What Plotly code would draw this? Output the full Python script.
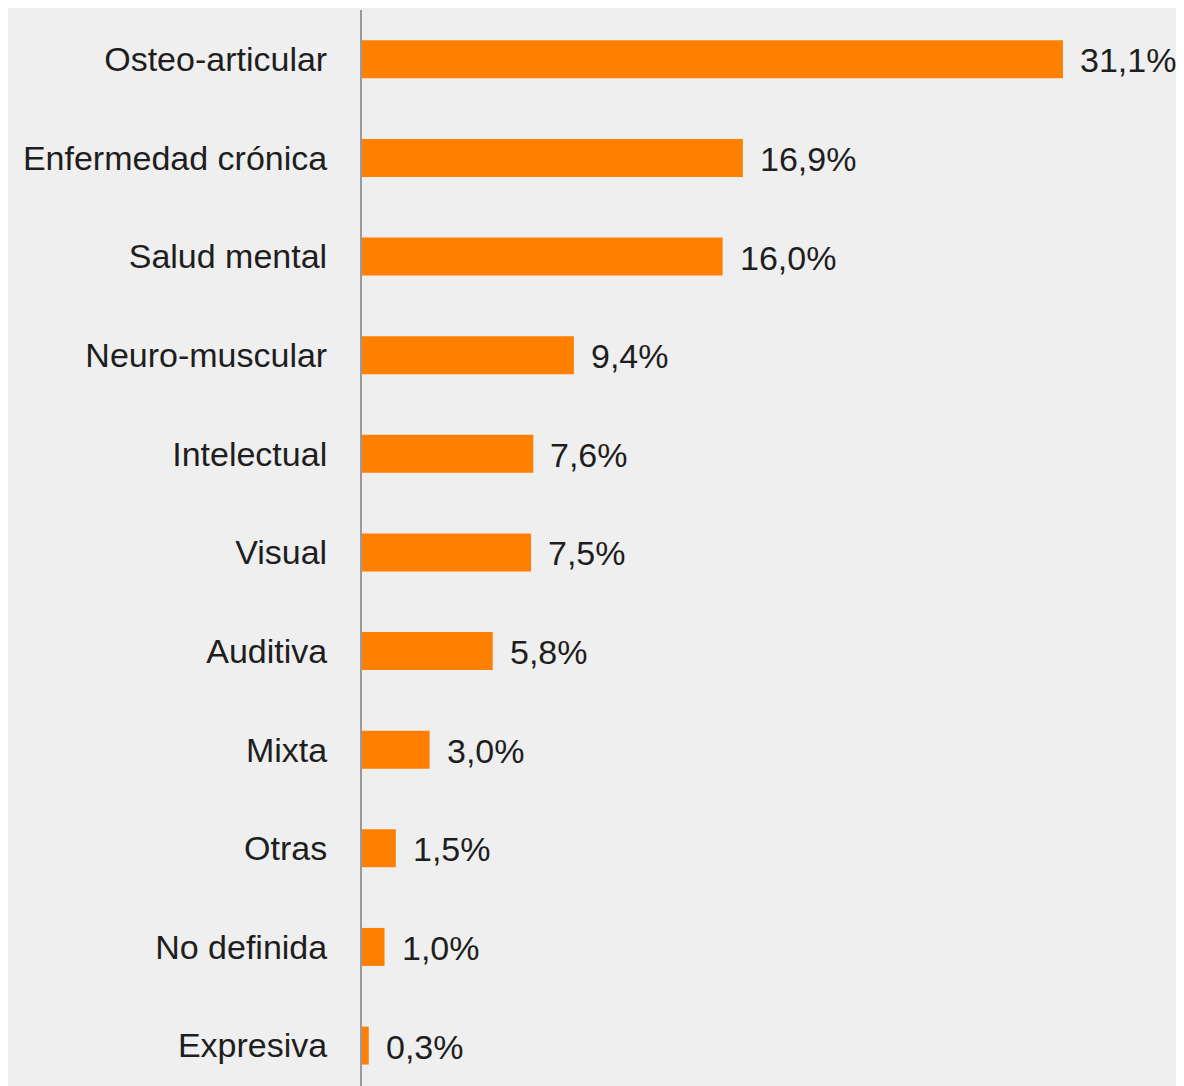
import plotly.graph_objects as go

categories = [
    "Osteo-articular",
    "Enfermedad crónica",
    "Salud mental",
    "Neuro-muscular",
    "Intelectual",
    "Visual",
    "Auditiva",
    "Mixta",
    "Otras",
    "No definida",
    "Expresiva",
]
values = [31.1, 16.9, 16.0, 9.4, 7.6, 7.5, 5.8, 3.0, 1.5, 1.0, 0.3]
value_labels = [f"{v:.1f}%".replace(".", ",") for v in values]

BAR_COLOR = "#ff7f00"
BG = "#efefef"
FONT = "Liberation Sans"
TEXT_COLOR = "#1e1e1e"
FONT_SIZE = 34

# the page body has an 8px margin, so the figure is shrunk and shifted by it
fig = go.Figure(
    go.Bar(
        x=values,
        y=categories,
        orientation="h",
        marker=dict(color=BAR_COLOR, line=dict(width=0)),
        width=0.385,
    )
)

for cat, v, lab in zip(categories, values, value_labels):
    fig.add_annotation(
        x=v, y=cat, text=lab, showarrow=False,
        xanchor="left", xshift=15, yshift=-1,
        font=dict(family=FONT, size=FONT_SIZE, color=TEXT_COLOR),
    )

fig.update_layout(
    width=1176,
    height=1078,
    margin=dict(l=354, r=0, t=2, b=0),
    paper_bgcolor=BG,
    plot_bgcolor=BG,
    showlegend=False,
    font=dict(family=FONT, size=FONT_SIZE, color=TEXT_COLOR),
)
fig.update_xaxes(
    range=[0, 36.47],
    visible=False,
)
fig.update_yaxes(
    categoryorder="array",
    categoryarray=categories,
    range=[10.41, -0.5],
    showline=True,
    linecolor="#9a9a9a",
    linewidth=2,
    showgrid=False,
    zeroline=False,
    ticks="",
    ticklabelstandoff=26,
)

fig.write_html("out.html")
